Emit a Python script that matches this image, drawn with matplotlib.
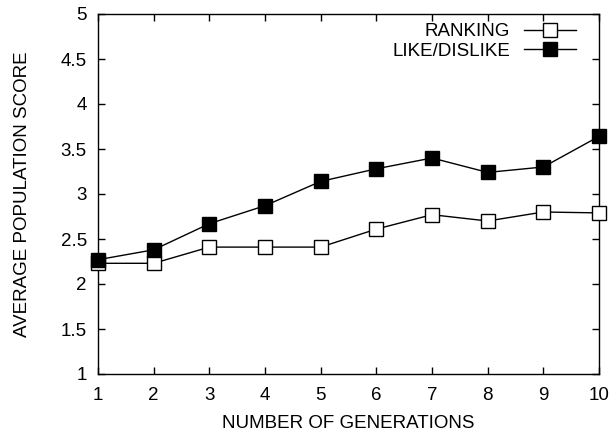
import matplotlib
matplotlib.use("Agg")
import matplotlib.pyplot as plt

generations = [1, 2, 3, 4, 5, 6, 7, 8, 9, 10]
ranking = [2.23, 2.23, 2.41, 2.41, 2.41, 2.61, 2.77, 2.70, 2.80, 2.79]
like_dislike = [2.27, 2.38, 2.67, 2.87, 3.14, 3.28, 3.40, 3.24, 3.30, 3.64]
yticks = [1, 1.5, 2, 2.5, 3, 3.5, 4, 4.5, 5]
ytick_labels = ["1", "1.5", "2", "2.5", "3", "3.5", "4", "4.5", "5"]

plt.rcParams['font.family'] = ['Liberation Sans', 'DejaVu Sans']
FS = 13.5

fig = plt.figure(figsize=(6.13, 4.34), dpi=100)
ax = fig.add_axes([98 / 613, 60 / 434, 501 / 613, 360 / 434])

ax.plot(generations, ranking, color='black', lw=1, marker='s', markersize=10,
        markerfacecolor='white', markeredgecolor='black', markeredgewidth=1,
        label='RANKING', clip_on=False, zorder=3)
ax.plot(generations, like_dislike, color='black', lw=1, marker='s', markersize=10,
        markerfacecolor='black', markeredgecolor='black',
        label='LIKE/DISLIKE', clip_on=False, zorder=4)

ax.set_xlim(1, 10)
ax.set_ylim(1, 5)
ax.set_xticks(generations)
ax.set_yticks(yticks)
ax.set_yticklabels(ytick_labels)
ax.tick_params(direction='in', length=5, width=1, top=True, right=True, labelsize=FS)
ax.tick_params(axis='y', pad=8)
ax.tick_params(axis='x', pad=9)
for s in ax.spines.values():
    s.set_linewidth(1)

ax.set_xlabel('NUMBER OF GENERATIONS', fontsize=FS, labelpad=8)
ax.set_ylabel('AVERAGE POPULATION SCORE', fontsize=FS, labelpad=21.5)

leg = ax.legend(loc='upper right', bbox_to_anchor=(576 / 613, 1 - 23 / 434),
                bbox_transform=fig.transFigure, markerfirst=False, frameon=False,
                fontsize=FS, handlelength=2.8, borderaxespad=0, borderpad=0,
                labelspacing=0.12, handletextpad=0.7)
for t in leg.get_texts():
    t.set_ha('right')

fig.savefig('out.png', dpi=100)
